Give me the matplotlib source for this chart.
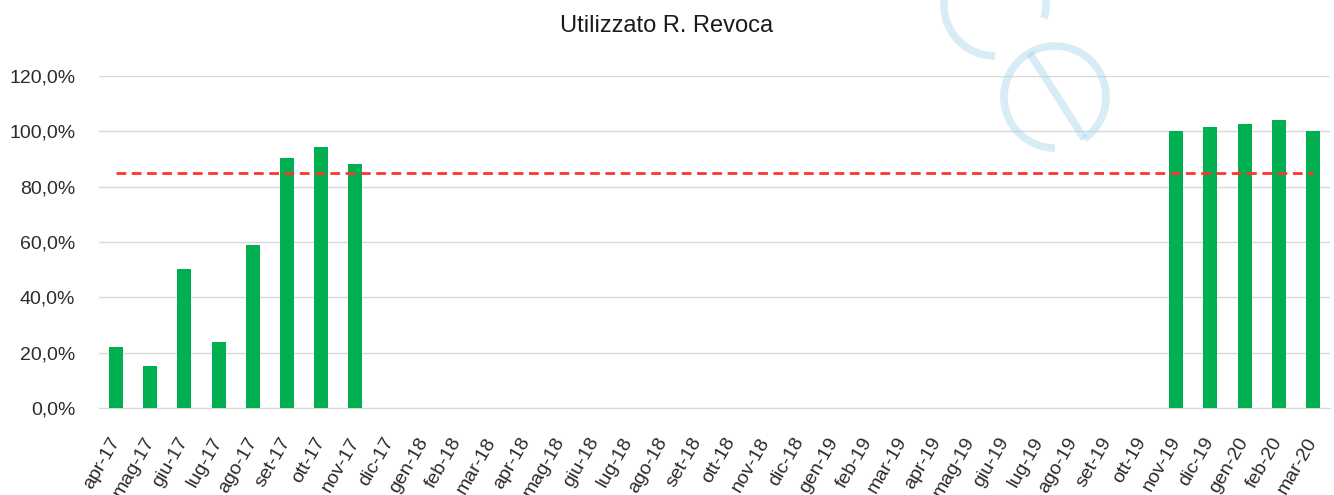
import numpy as np
import matplotlib.pyplot as plt
from matplotlib.patches import Arc
from matplotlib.ticker import FuncFormatter

plt.rcParams['font.family'] = ['Liberation Sans', 'DejaVu Sans']
plt.rcParams['lines.scale_dashes'] = False

# categories (apr-17 .. mar-20)
months = ['apr-17', 'mag-17', 'giu-17', 'lug-17', 'ago-17', 'set-17', 'ott-17', 'nov-17',
          'dic-17', 'gen-18', 'feb-18', 'mar-18', 'apr-18', 'mag-18', 'giu-18', 'lug-18',
          'ago-18', 'set-18', 'ott-18', 'nov-18', 'dic-18', 'gen-19', 'feb-19', 'mar-19',
          'apr-19', 'mag-19', 'giu-19', 'lug-19', 'ago-19', 'set-19', 'ott-19', 'nov-19',
          'dic-19', 'gen-20', 'feb-20', 'mar-20']

# utilizzato (fraction of revoca), None = no data
utilizzato = [0.220, 0.152, 0.503, 0.240, 0.588, 0.903, 0.943, 0.883,
              None, None, None, None, None, None, None, None,
              None, None, None, None, None, None, None, None,
              None, None, None, None, None, None, None, 1.000,
              1.014, 1.028, 1.042, 1.000]

soglia = [0.85] * len(months)  # threshold line

vals = np.array([np.nan if v is None else v for v in utilizzato])
x = np.arange(len(months))

fig = plt.figure(figsize=(13.34, 4.95), dpi=100)
ax = fig.add_axes([0.0742, 0.1758, 0.9228, 0.6707])
ax.set_facecolor('none')

ax.bar(x, vals, width=0.41, color='#00B050', zorder=3)
ax.plot(x, soglia, color='#FF3333', lw=2, dashes=(7, 4), zorder=4)

ax.set_xlim(-0.5, len(months) - 0.5)
ax.set_ylim(0, 1.2)
ax.set_yticks(np.arange(0, 1.21, 0.2))
ax.yaxis.set_major_formatter(FuncFormatter(lambda v, p: f"{v*100:.1f}%".replace('.', ',')))
ax.grid(axis='y', color='#D9D9D9', lw=1, zorder=0)
ax.set_axisbelow(True)
for s in ['top', 'right', 'left']:
    ax.spines[s].set_visible(False)
ax.spines['bottom'].set_color('#D9D9D9')
ax.tick_params(axis='both', length=0, labelsize=14, labelcolor='#2b2b2b')
ax.tick_params(axis='y', pad=17)
ax.set_xticks(x)
ax.set_xticklabels(months, rotation=60, ha='right', va='center', rotation_mode='anchor')
ax.tick_params(axis='x', pad=22)

fig.text(0.5, 0.948, 'Utilizzato R. Revoca', ha='center', va='center', fontsize=17, color='#1a1a1a')

# faint watermark logo, drawn in pixel coordinates
wm = fig.add_axes([0, 0, 1, 1], zorder=10)
wm.set_xlim(0, 1334)
wm.set_ylim(0, 495)
wm.axis('off')
wm_col = '#A8D5EA'
wm.add_patch(Arc((995, 495 - 5), 102, 102, theta1=-15, theta2=270, color=wm_col, lw=5.5, alpha=0.45))
wm.add_patch(Arc((1055, 495 - 97), 102, 102, theta1=-55, theta2=270, color=wm_col, lw=5.5, alpha=0.45))
wm.plot([1055 + 51 * np.cos(np.radians(120)), 1055 + 51 * np.cos(np.radians(-55))],
        [495 - 97 + 51 * np.sin(np.radians(120)), 495 - 97 + 51 * np.sin(np.radians(-55))],
        color=wm_col, lw=5.5, alpha=0.45, solid_capstyle='butt')

fig.savefig('out.png', dpi=100)
